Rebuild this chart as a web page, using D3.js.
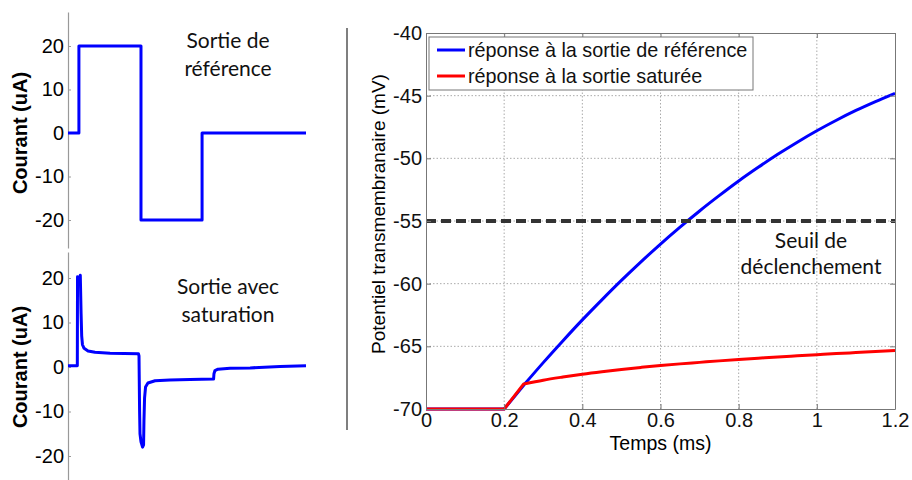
<!DOCTYPE html>
<html>
<head>
<meta charset="utf-8">
<script src="https://cdn.jsdelivr.net/npm/d3@7"></script>
<style>
  body { margin: 0; background: #fff; }
  svg { display: block; }
</style>
</head>
<body>
<div id="chart"></div>
<script>
// Données
// Panneaux de gauche : courant (uA) en fonction du temps (ms)
const refTime = [0, 0.055, 0.055, 0.368, 0.368, 0.676, 0.676, 1.2];
const refCurrent = [0, 0, 20, 20, -20, -20, 0, 0];

const satTime = [0, 0.047, 0.048, 0.053, 0.058, 0.062, 0.066, 0.069, 0.073, 0.081, 0.101, 0.136, 0.212, 0.355,
  0.358, 0.361, 0.363, 0.368, 0.376, 0.381, 0.383, 0.386, 0.391, 0.403, 0.439, 0.514, 0.615, 0.734,
  0.736, 0.741, 0.756, 0.817, 0.918, 1.069, 1.2];
const satCurrent = [0.3, 0.3, 20.3, 19, 19.5, 20.6, 12, 7, 5, 4.2, 3.6, 3.3, 3.1, 3.0,
  2.5, -10, -15, -16.8, -18, -17.5, -12, -7, -4.5, -3.6, -3.1, -2.9, -2.8, -2.7,
  -1.5, -0.8, -0.5, -0.3, -0.2, 0.1, 0.3];
const currentTicks = [-20, -10, 0, 10, 20];

// Panneau de droite : potentiel transmembranaire (mV)
const vTime = [0, 0.05, 0.1, 0.15, 0.2, 0.25, 0.3, 0.35, 0.4, 0.45, 0.5, 0.55, 0.6, 0.65, 0.7, 0.75,
  0.8, 0.85, 0.9, 0.95, 1.0, 1.05, 1.1, 1.15, 1.2];
const vReference = [-70, -70, -70, -70, -70, -68.1, -66.3, -64.57, -62.89, -61.29, -59.74, -58.26, -56.84,
  -55.49, -54.2, -52.98, -51.81, -50.72, -49.68, -48.71, -47.8, -46.96, -46.18, -45.47, -44.81];
const vSaturated = [-70, -70, -70, -70, -70, -68.0, -67.7, -67.45, -67.22, -67.02, -66.84, -66.68, -66.53,
  -66.4, -66.28, -66.16, -66.05, -65.95, -65.85, -65.76, -65.67, -65.58, -65.5, -65.42, -65.34];
const rampEnd = 5;   // index de 0.25 ms : fin de la rampe linéaire
const threshold = -55;
const timeTicks = [0, 0.2, 0.4, 0.6, 0.8, 1, 1.2];
const voltTicks = [-70, -65, -60, -55, -50, -45, -40];
const legendLabels = ['réponse à la sortie de référence', 'réponse à la sortie saturée'];
const seriesColors = ['#0000ff', '#ff0000'];

const W = 912, H = 480;
const svg = d3.select('#chart').append('svg')
    .attr('width', W)
    .attr('height', H)
    .attr('viewBox', `0 0 ${W} ${H}`);

const arial = 'Liberation Sans, Arial, sans-serif';
const calibri = 'Lato, Open Sans, sans-serif';
const hyphenFmt = d => String(d);   // tiret simple comme dans MATLAB

// --- panneaux de courant ---
function drawCurrentPanel(times, values, yTop, yBottom, zeroY, twentyY, title, titleY) {
    const x = d3.scaleLinear().domain([0, 1.2]).range([68, 306]);
    const pxPerUnit = (zeroY - twentyY) / 20;
    const y = d3.scaleLinear()
        .domain([(zeroY - yBottom) / pxPerUnit, (zeroY - yTop) / pxPerUnit])
        .range([yBottom, yTop]);

    const axis = svg.append('g')
        .attr('transform', 'translate(68,0)')
        .call(d3.axisLeft(y).tickValues(currentTicks).tickSizeInner(-3).tickSizeOuter(0).tickPadding(4)
            .tickFormat(hyphenFmt));
    axis.select('.domain').attr('stroke', '#999').attr('stroke-width', 1.2);
    axis.selectAll('.tick line').attr('stroke', '#999');
    axis.selectAll('.tick text')
        .attr('font-family', arial)
        .attr('font-size', '20px')
        .attr('fill', '#000');

    svg.append('text')
        .attr('transform', `translate(27,${y(0)}) rotate(-90)`)
        .attr('text-anchor', 'middle')
        .attr('font-family', arial)
        .attr('font-weight', 'bold')
        .attr('font-size', '20px')
        .text('Courant (uA)');

    const line = d3.line()
        .x((d, i) => x(times[i]))
        .y(d => y(d));
    svg.append('path')
        .datum(values)
        .attr('d', line)
        .attr('fill', 'none')
        .attr('stroke', '#0000ff')
        .attr('stroke-width', 3)
        .attr('stroke-linejoin', 'round');

    title.forEach((t, i) => {
        svg.append('text')
            .attr('x', 228)
            .attr('y', titleY + i * 28)
            .attr('text-anchor', 'middle')
            .attr('font-family', calibri)
            .attr('font-size', '21px')
            .attr('fill', '#111')
            .text(t);
    });
}

drawCurrentPanel(refTime, refCurrent, 12, 248, 133, 46, ['Sortie de', 'référence'], 48);
drawCurrentPanel(satTime, satCurrent, 252, 480, 367, 278, ['Sortie avec', 'saturation'], 294);

// séparateur
svg.append('line')
    .attr('x1', 347).attr('x2', 347)
    .attr('y1', 28).attr('y2', 430)
    .attr('stroke', '#555')
    .attr('stroke-width', 1.5);

// --- panneau de potentiel ---
const plot = { left: 426, right: 895, top: 33, bottom: 409 };
const xT = d3.scaleLinear().domain([0, 1.2]).range([plot.left, plot.right]);
const yV = d3.scaleLinear().domain([-70, -40]).range([plot.bottom, plot.top]);

const grid = svg.append('g').attr('class', 'grid');
grid.selectAll('.vgrid')
    .data(timeTicks.slice(1, -1))
    .enter().append('line')
    .attr('x1', d => xT(d)).attr('x2', d => xT(d))
    .attr('y1', plot.top).attr('y2', plot.bottom)
    .attr('stroke', '#aaa')
    .attr('stroke-width', 1)
    .attr('stroke-dasharray', '1.5,2');
grid.selectAll('.hgrid')
    .data(voltTicks.slice(1, -1))
    .enter().append('line')
    .attr('x1', plot.left).attr('x2', plot.right)
    .attr('y1', d => yV(d)).attr('y2', d => yV(d))
    .attr('stroke', '#aaa')
    .attr('stroke-width', 1)
    .attr('stroke-dasharray', '1.5,2');

// rampe linéaire jusqu'à 0.25 ms, puis courbe lissée
const lineRamp = d3.line()
    .x(d => xT(d[0]))
    .y(d => yV(d[1]));
const lineSmooth = d3.line()
    .x(d => xT(d[0]))
    .y(d => yV(d[1]))
    .curve(d3.curveMonotoneX);

[vReference, vSaturated].forEach((vals, i) => {
    const pts = vals.map((v, k) => [vTime[k], v]);
    const d = lineRamp(pts.slice(0, rampEnd + 1)) + 'L' + lineSmooth(pts.slice(rampEnd)).slice(1);
    svg.append('path')
        .attr('d', d)
        .attr('fill', 'none')
        .attr('stroke', seriesColors[i])
        .attr('stroke-width', 3)
        .attr('stroke-linejoin', 'round');
});

// seuil de déclenchement
svg.append('line')
    .attr('x1', xT(0)).attr('x2', xT(1.2))
    .attr('y1', yV(threshold)).attr('y2', yV(threshold))
    .attr('stroke', '#333')
    .attr('stroke-width', 4)
    .attr('stroke-dasharray', '10,5');

// axes (ticks vers l'intérieur, façon MATLAB)
function styleAxis(g) {
    g.select('.domain').attr('stroke', '#777').attr('stroke-width', 1);
    g.selectAll('.tick line').attr('stroke', '#777');
    g.selectAll('.tick text')
        .attr('font-family', arial)
        .attr('font-size', '20px')
        .attr('fill', '#111');
}
svg.append('g')
    .attr('transform', `translate(0,${plot.bottom})`)
    .call(d3.axisBottom(xT).tickValues(timeTicks).tickSizeInner(-5).tickSizeOuter(0).tickPadding(4).tickFormat(hyphenFmt))
    .call(styleAxis);
svg.append('g')
    .attr('transform', `translate(0,${plot.top})`)
    .call(d3.axisTop(xT).tickValues(timeTicks).tickSizeInner(-5).tickSizeOuter(0).tickFormat(''))
    .call(styleAxis);
svg.append('g')
    .attr('transform', `translate(${plot.left},0)`)
    .call(d3.axisLeft(yV).tickValues(voltTicks).tickSizeInner(-5).tickSizeOuter(0).tickPadding(4).tickFormat(hyphenFmt))
    .call(styleAxis);
svg.append('g')
    .attr('transform', `translate(${plot.right},0)`)
    .call(d3.axisRight(yV).tickValues(voltTicks).tickSizeInner(-5).tickSizeOuter(0).tickFormat(''))
    .call(styleAxis);

svg.append('text')
    .attr('x', (plot.left + plot.right) / 2)
    .attr('y', 450)
    .attr('text-anchor', 'middle')
    .attr('font-family', arial)
    .attr('font-size', '19.5px')
    .text('Temps (ms)');

svg.append('text')
    .attr('transform', `translate(385,214) rotate(-90)`)
    .attr('text-anchor', 'middle')
    .attr('font-family', arial)
    .attr('font-size', '19px')
    .text('Potentiel transmembranaire (mV)');

// légende
const legend = svg.append('g').attr('transform', 'translate(429,37)');
legend.append('rect')
    .attr('width', 324).attr('height', 53)
    .attr('fill', '#fff')
    .attr('stroke', '#777')
    .attr('stroke-width', 1);
legendLabels.forEach((label, i) => {
    const row = legend.append('g').attr('transform', `translate(0,${13 + i * 26})`);
    row.append('line')
        .attr('x1', 8).attr('x2', 36)
        .attr('stroke', seriesColors[i])
        .attr('stroke-width', 3);
    row.append('text')
        .attr('x', 39)
        .attr('y', 7)
        .attr('font-family', arial)
        .attr('font-size', '19.8px')
        .attr('fill', '#111')
        .text(label);
});

// annotation du seuil
['Seuil de', 'déclenchement'].forEach((t, i) => {
    svg.append('text')
        .attr('x', 811)
        .attr('y', 248 + i * 26)
        .attr('text-anchor', 'middle')
        .attr('font-family', calibri)
        .attr('font-size', '21px')
        .attr('fill', '#111')
        .text(t);
});
</script>
</body>
</html>
